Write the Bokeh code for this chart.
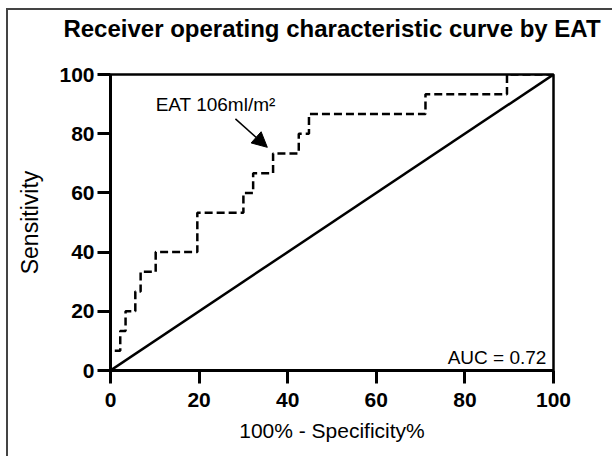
from bokeh.plotting import figure
from bokeh.models import Range1d, FixedTicker, Label, Arrow, NormalHead, Title
from bokeh.embed import file_html
from bokeh.resources import INLINE

# ROC curve points (100% - specificity %, sensitivity %)
fpr = [0, 0, 2.2, 2.2, 3.4, 3.4, 5.6, 5.6, 6.8, 6.8, 10.2, 10.2, 19.6, 19.6,
       30.0, 30.0, 32.2, 32.2, 36.7, 36.7, 42.5, 42.5, 44.8, 44.8, 71.1, 71.1,
       89.5, 89.5, 100]
tpr = [0, 6.67, 6.67, 13.33, 13.33, 20.0, 20.0, 26.67, 26.67, 33.33, 33.33, 40.0,
       40.0, 53.33, 53.33, 60.0, 60.0, 66.67, 66.67, 73.33, 73.33, 80.0, 80.0,
       86.67, 86.67, 93.33, 93.33, 100, 100]
ref_x = [0, 100]
ref_y = [0, 100]
ticks = [0, 20, 40, 60, 80, 100]
title_text = "Receiver operating characteristic curve by EAT"
auc_text = "AUC = 0.72"
cutoff_text = "EAT 106ml/m\u00b2"
cutoff_point = (35.4, 75.4)
cutoff_label_pos = (10.2, 89.8)
arrow_tail = (28.2, 85.0)

FONT = "Liberation Sans"

p = figure(width=606, height=448, output_backend="svg", toolbar_location=None,
           x_range=Range1d(0, 100), y_range=Range1d(0, 100),
           min_border_left=102, min_border_right=61, min_border_top=64,
           min_border_bottom=88, title=None)
p.styles = {"margin-left": "6px", "margin-top": "8px",
            "border-left": "2px solid #444", "border-top": "2px solid #444"}

# thin invisible spacer between the frame and the title
spacer = Title(text=" ", text_font_size="1px", standoff=30, text_color="white")
p.add_layout(spacer, "above")
main_title = Title(text=title_text, text_font=FONT, text_font_size="24px",
                   text_font_style="bold", align="center", text_color="black",
                   vertical_align="bottom", standoff=0)
p.add_layout(main_title, "above")

p.grid.visible = False
p.outline_line_color = "black"
p.outline_line_width = 2.5
p.outline_line_alpha = 1

for ax in (p.xaxis[0], p.yaxis[0]):
    ax.ticker = FixedTicker(ticks=ticks)
    ax.axis_line_width = 3
    ax.axis_line_color = "black"
    ax.major_tick_line_width = 3
    ax.major_tick_line_color = "black"
    ax.major_tick_out = 13
    ax.major_tick_in = 0
    ax.minor_tick_line_color = None
    ax.major_label_text_font = FONT
    ax.major_label_text_font_style = "bold"
    ax.major_label_text_font_size = "21px"
    ax.major_label_text_color = "black"
    ax.axis_label_text_font = FONT
    ax.axis_label_text_font_style = "normal"
    ax.axis_label_text_color = "black"

p.xaxis.axis_label = "100% - Specificity%"
p.yaxis.axis_label = "Sensitivity"
p.xaxis.axis_label_text_font_size = "21px"
p.yaxis.axis_label_text_font_size = "23px"
p.xaxis.major_label_standoff = 9
p.yaxis.major_label_standoff = 3
p.xaxis.axis_label_standoff = 9
p.yaxis.axis_label_standoff = 13

p.line(ref_x, ref_y, line_color="black", line_width=2.5)
p.line(fpr, tpr, line_color="black", line_width=2.5, line_dash="8 4")

p.add_layout(Arrow(end=NormalHead(size=15, fill_color="black", line_color="black"),
                   x_start=arrow_tail[0], y_start=arrow_tail[1],
                   x_end=cutoff_point[0], y_end=cutoff_point[1],
                   line_color="black", line_width=1.5))
p.add_layout(Label(x=cutoff_label_pos[0], y=cutoff_label_pos[1], text=cutoff_text,
                   text_font=FONT, text_font_size="19px", text_color="black",
                   text_baseline="alphabetic"))
p.add_layout(Label(x=98.4, y=4.5, text=auc_text, text_align="right",
                   text_font=FONT, text_font_size="19px", text_color="black",
                   text_baseline="alphabetic"))

open("out.html", "w").write(file_html(p, INLINE))
